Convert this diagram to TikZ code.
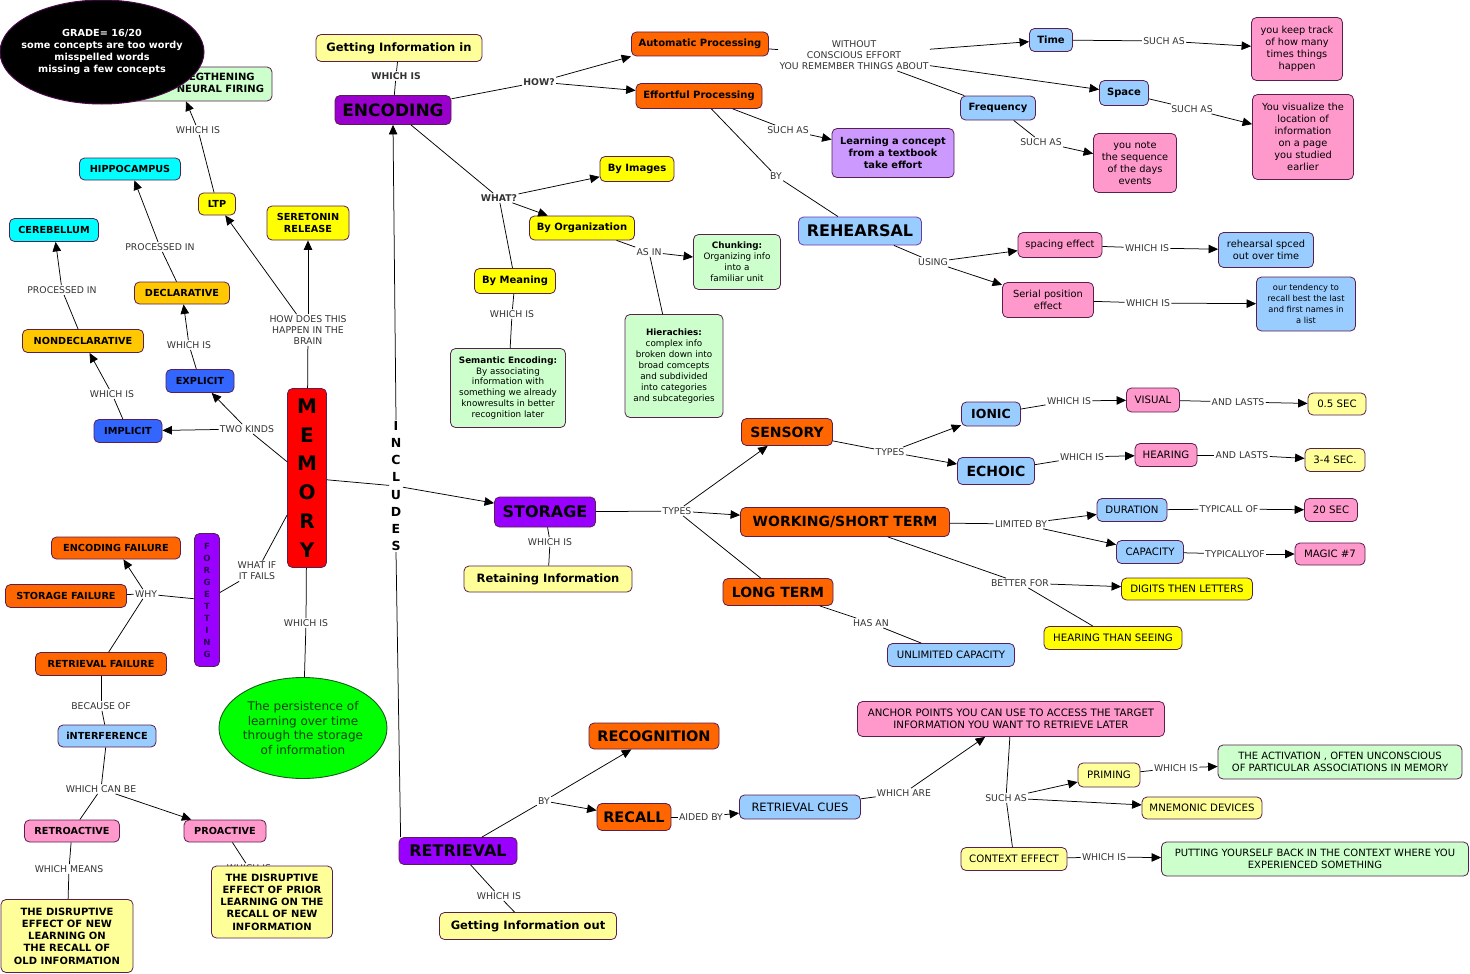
\documentclass[tikz,border=0pt]{standalone}
\usepackage{fontspec}
\setmainfont{DejaVu Sans}
\usetikzlibrary{arrows.meta,shapes.geometric}
\newcommand{\bsz}[2]{\fontsize{#1}{#2}\selectfont\bfseries}
\newcommand{\rsz}[2]{\fontsize{#1}{#2}\selectfont}
\definecolor{orng}{HTML}{FF6600}
\definecolor{purp}{HTML}{9900CC}
\definecolor{viol}{HTML}{9900FF}
\definecolor{cyanc}{HTML}{00FFFF}
\definecolor{yel}{HTML}{FFFF00}
\definecolor{lyel}{HTML}{FFFF99}
\definecolor{goldc}{HTML}{FFC800}
\definecolor{blu}{HTML}{3366FF}
\definecolor{lblu}{HTML}{99CCFF}
\definecolor{pinkc}{HTML}{FF99CC}
\definecolor{lgrn}{HTML}{CCFFCC}
\definecolor{lav}{HTML}{CC99FF}
\definecolor{redc}{HTML}{FF0000}
\definecolor{limec}{HTML}{00FF00}
\definecolor{bordc}{HTML}{5A1E50}
\definecolor{gradeb}{HTML}{4A0A4A}
\definecolor{lblc}{HTML}{333333}
\definecolor{forgc}{HTML}{2B0055}
\definecolor{perstx}{HTML}{0F3F0F}
\definecolor{persb}{HTML}{1A5A1A}
\definecolor{rehb}{HTML}{6A3AB0}
\tikzset{
  cn/.style={rectangle, rounded corners=5pt, draw=bordc, line width=0.8pt, align=center, inner sep=1pt, text=black},
  wh/.style 2 args={minimum width=#1pt, minimum height=#2pt},
  lb/.style={fill=white, inner sep=1.2pt, align=center, text=lblc, font=\rsz{9.3}{11}},
  lbb/.style={lb, font=\bsz{9.3}{11}},
  ln/.style={draw=black, line width=0.75pt},
  arr/.style={ln, -{Triangle[length=9.5pt,width=8.5pt]}},
  nor/.style={cn, fill=orng},
  npu/.style={cn, fill=purp},
  nvi/.style={cn, fill=viol},
  ncy/.style={cn, fill=cyanc},
  nye/.style={cn, fill=yel},
  nly/.style={cn, fill=lyel},
  ngo/.style={cn, fill=goldc},
  nbl/.style={cn, fill=blu},
  nlb/.style={cn, fill=lblu},
  npk/.style={cn, fill=pinkc},
  nlg/.style={cn, fill=lgrn},
  nlv/.style={cn, fill=lav},
  fb/.style={font=\bsz{9.7}{12}},
  fr/.style={font=\rsz{10.2}{12}},
}
\begin{document}
\begin{tikzpicture}[x=1pt,y=-1pt]
\useasboundingbox (0,0) rectangle (1470,974);
\fill[white] (0,0) rectangle (1470,974);

% ---------- link labels ----------
\node[lbb] (lwe) at (396,76) {WHICH IS};
\node[lbb] (lhow) at (539,82) {HOW?};
\node[lbb] (lwhat) at (499,198) {WHAT?};
\node[lb] (lwo) at (854,55) {WITHOUT\\CONSCIOUS EFFORT\\YOU REMEMBER THINGS ABOUT};
\node[lb] (lst) at (1164,41) {SUCH AS};
\node[lb] (lss) at (1192,109) {SUCH AS};
\node[lb] (lsf) at (1041,142) {SUCH AS};
\node[lb] (lse) at (788,130) {SUCH AS};
\node[lb] (lbe) at (776,176) {BY};
\node[lb] (lus) at (933,262) {USING};
\node[lb] (lwsp) at (1147,248) {WHICH IS};
\node[lb] (lwse) at (1148,303) {WHICH IS};
\node[lb] (lasin) at (649,252) {AS IN};
\node[lb] (lwm) at (512,314) {WHICH IS};
\node[lb] (lhb) at (308,330) {HOW DOES THIS\\HAPPEN IN THE\\BRAIN};
\node[lb] (lltp) at (198,130) {WHICH IS};
\node[lb] (lp1) at (160,247) {PROCESSED IN};
\node[lb] (lp2) at (62,290) {PROCESSED IN};
\node[lb] (ltk) at (247,429) {TWO KINDS};
\node[lb] (lwi) at (112,394) {WHICH IS};
\node[lb] (lwx) at (189,345) {WHICH IS};
\node[lb] (lwif) at (257,571) {WHAT IF\\IT FAILS};
\node[lb] (lwhy) at (146,594) {WHY};
\node[lb] (lwmem) at (306,623) {WHICH IS};
\node[lb] (lbec) at (101,706) {BECAUSE OF};
\node[lb] (lcan) at (101,789) {WHICH CAN BE};
\node[lb] (lmeans) at (69,869) {WHICH MEANS};
\node[lb] (lwpro) at (249,868) {WHICH IS};
\node[lbb, font=\bsz{12.5}{17.1}, text=black, inner sep=1.5pt] (lincl) at (396,486) {I\\N\\C\\L\\U\\D\\E\\S};
\node[lb] (lwst) at (550,542) {WHICH IS};
\node[lb] (ltypes) at (677,511) {TYPES};
\node[lb] (ltypes2) at (890,452) {TYPES};
\node[lb] (lwio) at (1069,401) {WHICH IS};
\node[lb] (lal1) at (1238,402) {AND LASTS};
\node[lb] (lwec) at (1082,457) {WHICH IS};
\node[lb] (lal2) at (1242,455) {AND LASTS};
\node[lb] (llim) at (1021,524) {LIMITED BY};
\node[lb] (ltyp1) at (1229,509) {TYPICALL OF};
\node[lb] (ltyp2) at (1235,554) {TYPICALLYOF};
\node[lb] (lbet) at (1020,583) {BETTER FOR};
\node[lb] (lhas) at (871,623) {HAS AN};
\node[lb] (lbyr) at (544,801) {BY};
\node[lb] (lwr) at (499,896) {WHICH IS};
\node[lb] (laid) at (701,817) {AIDED BY};
\node[lb] (lware) at (904,793) {WHICH ARE};
\node[lb] (lsa) at (1006,798) {SUCH AS};
\node[lb] (lwpr) at (1176,768) {WHICH IS};
\node[lb] (lwc) at (1104,857) {WHICH IS};

% ---------- left: memory ----------
\node[nlg, wh={152}{34}] (streng) at (196,84) {};
\node[align=center, font=\bsz{10}{12}, inner sep=0pt] (strengtxt) at (211,83) {STREGTHENING\\OF NEURAL FIRING};
\node[ellipse, fill=black, draw=gradeb, line width=1pt, minimum width=204pt, minimum height=104pt, inner sep=0pt] (grade) at (102,52) {};
\node[text=white, align=center, font=\bsz{9.7}{12.2}, inner sep=0pt] (gradetxt) at (grade.center) {GRADE= 16/20\\some concepts are too wordy\\misspelled words\\missing a few concepts};
\node[ncy, wh={101}{22}, fb] (hippo) at (130,169) {HIPPOCAMPUS};
\node[ncy, wh={89}{23}, fb] (cereb) at (54,230) {CEREBELLUM};
\node[nye, wh={37}{22}, fb] (ltp) at (217,204) {LTP};
\node[nye, wh={82}{34}, fb] (sero) at (308,223) {SERETONIN\\RELEASE};
\node[ngo, wh={95}{22}, fb] (decl) at (182,293) {DECLARATIVE};
\node[ngo, wh={121}{23}, fb] (nondecl) at (83,341) {NONDECLARATIVE};
\node[nbl, wh={68}{23}, fb] (explicit) at (200,381) {EXPLICIT};
\node[nbl, wh={68}{23}, fb] (implicit) at (128,431) {IMPLICIT};
\node[cn, fill=redc, wh={39}{179}, font=\bsz{20}{28.7}] (memory) at (307,478) {M\\E\\M\\O\\R\\Y};
\node[nvi, wh={25}{133}, font=\bsz{8.5}{12}, text=forgc] (forget) at (207,600) {F\\O\\R\\G\\E\\T\\T\\I\\N\\G};
\node[nor, wh={129}{22}, fb] (encfail) at (116,548) {ENCODING FAILURE};
\node[nor, wh={121}{23}, fb] (storfail) at (66,596) {STORAGE FAILURE};
\node[nor, wh={131}{23}, fb] (retrfail) at (101,664) {RETRIEVAL FAILURE};
\node[nlb, wh={98}{22}, fb] (interf) at (107,736) {iNTERFERENCE};
\node[npk, wh={95}{22}, fb] (retro) at (72,831) {RETROACTIVE};
\node[npk, wh={82}{22}, fb] (pro) at (225,831) {PROACTIVE};
\node[nly, wh={132}{73}, font=\bsz{10}{12.2}] (retrodef) at (67,936) {THE DISRUPTIVE\\EFFECT OF NEW\\LEARNING ON\\THE RECALL OF\\OLD INFORMATION};
\node[nly, wh={121}{72}, font=\bsz{10}{12.2}] (prodef) at (272,902) {THE DISRUPTIVE\\EFFECT OF PRIOR\\LEARNING ON THE\\RECALL OF NEW\\INFORMATION};
\node[ellipse, fill=limec, draw=persb, line width=0.9pt, minimum width=168pt, minimum height=101pt, inner sep=0pt] (persist) at (303,728) {};
\node[text=perstx, align=center, font=\rsz{12}{14.7}, inner sep=0pt] (persisttxt) at (persist.center) {The persistence of\\learning over time\\through the storage\\of information};

% ---------- centre column ----------
\node[nly, wh={166}{27}, font=\bsz{11.5}{13}] (getin) at (399,48) {Getting Information in};
\node[npu, wh={116}{29}, font=\bsz{17}{19}] (enc) at (393,110) {ENCODING};
\node[nvi, wh={101}{30}, font=\bsz{16}{18}] (storage) at (545,512) {STORAGE};
\node[nly, wh={168}{26}, font=\bsz{11.5}{13}] (retaining) at (548,579) {Retaining Information};
\node[nvi, wh={118}{27}, font=\bsz{16}{18}] (retrieval) at (458,851) {RETRIEVAL};
\node[nly, wh={177}{27}, font=\bsz{11.5}{13}] (getout) at (528,926) {Getting Information out};
\node[nor, wh={130}{26}, font=\bsz{14.5}{16}] (recog) at (654,736) {RECOGNITION};
\node[nor, wh={74}{27}, font=\bsz{14.5}{16}] (recall) at (634,817) {RECALL};
\node[nlb, wh={121}{24}, font=\rsz{11.5}{13}] (cues) at (800,807) {RETRIEVAL CUES};

% ---------- encoding subtree ----------
\node[nor, wh={137}{24}, font=\bsz{10}{12}] (auto) at (700,44) {Automatic Processing};
\node[nor, wh={126}{25}, font=\bsz{10}{12}] (effort) at (699,96) {Effortful Processing};
\node[nlb, wh={43}{23}, font=\bsz{10}{12}] (time) at (1051,40) {Time};
\node[nlb, wh={49}{25}, font=\bsz{10}{12}] (space) at (1124,93) {Space};
\node[nlb, wh={75}{24}, font=\bsz{10}{12}] (freq) at (998,108) {Frequency};
\node[npk, wh={91}{63}, font=\rsz{9.8}{12.1}] (keep) at (1297,49) {you keep track\\of how many\\times things\\happen};
\node[npk, wh={101}{85}, font=\rsz{9.8}{12.1}] (visualize) at (1303,137) {You visualize the\\location of\\information\\on a page\\you studied\\earlier};
\node[npk, wh={83}{59}, font=\rsz{9.8}{12.1}] (note) at (1135,163) {you note\\the sequence\\of the days\\events};
\node[nlv, wh={122}{49}, font=\bsz{9.8}{12}] (learnc) at (893,153) {Learning a concept\\from a textbook\\take effort};
\node[nlb, draw=rehb, wh={123}{28}, font=\bsz{16}{18}] (rehearsal) at (860,231) {REHEARSAL};
\node[npk, wh={84}{25}, font=\rsz{9.8}{12}] (spacing) at (1060,245) {spacing effect};
\node[nlb, wh={95}{35}, font=\rsz{9.8}{12}] (spced) at (1266,250) {rehearsal spced\\out over time};
\node[npk, wh={91}{35}, font=\rsz{9.8}{12}] (serial) at (1048,300) {Serial position\\effect};
\node[nlb, wh={99}{54}, font=\rsz{8.3}{11}] (tendency) at (1306,304) {our tendency to\\recall best the last\\and first names in\\a list};
\node[nye, wh={74}{25}, font=\bsz{10}{12}] (byimg) at (637,169) {By Images};
\node[nye, wh={105}{24}, font=\bsz{10}{12}] (byorg) at (582,228) {By Organization};
\node[nye, wh={81}{25}, font=\bsz{10}{12}] (bymean) at (515,281) {By Meaning};
\node[nlg, wh={87}{55}, font=\rsz{8.8}{11}] (chunk) at (737,262) {\textbf{Chunking:}\\Organizing info\\into a\\familiar unit};
\node[nlg, wh={115}{79}, font=\rsz{8.8}{10.9}] (semantic) at (508,388) {\textbf{Semantic Encoding:}\\By associating\\information with\\something we already\\knowresults in better\\recognition later};
\node[nlg, wh={98}{103}, font=\rsz{8.8}{10.9}] (hier) at (674,366) {\textbf{Hierachies:}\\complex info\\broken down into\\broad comcepts\\and subdivided\\into categories\\and subcategories};

% ---------- storage subtree ----------
\node[nor, wh={91}{27}, font=\bsz{14}{16}] (sensory) at (787,432) {SENSORY};
\node[nlb, wh={59}{24}, font=\bsz{12.5}{14}] (ionic) at (991,414) {IONIC};
\node[nlb, wh={77}{27}, font=\bsz{14}{16}] (echoic) at (996,471) {ECHOIC};
\node[npk, wh={53}{24}, fr] (visual) at (1153,400) {VISUAL};
\node[nly, wh={58}{22}, fr] (half) at (1337,404) {0.5 SEC};
\node[npk, wh={62}{23}, fr] (hearing) at (1166,455) {HEARING};
\node[nly, wh={60}{23}, fr] (threefour) at (1335,460) {3-4 SEC.};
\node[nor, wh={209}{29}, font=\bsz{14}{16}] (working) at (845,522) {WORKING/SHORT TERM};
\node[nlb, wh={70}{23}, fr] (duration) at (1132,510) {DURATION};
\node[npk, wh={53}{23}, fr] (twenty) at (1331,510) {20 SEC};
\node[nlb, wh={67}{23}, fr] (capacity) at (1150,552) {CAPACITY};
\node[npk, wh={70}{22}, fr] (magic) at (1330,554) {MAGIC \#7};
\node[nye, wh={131}{22}, fr] (digits) at (1187,589) {DIGITS THEN LETTERS};
\node[nye, wh={138}{23}, fr] (hearseeing) at (1113,638) {HEARING THAN SEEING};
\node[nor, wh={110}{27}, font=\bsz{14}{16}] (longterm) at (778,592) {LONG TERM};
\node[nlb, wh={127}{23}, fr] (unlimited) at (951,655) {UNLIMITED CAPACITY};

% ---------- retrieval subtree ----------
\node[npk, wh={307}{35}, font=\rsz{10.2}{11.7}] (anchor) at (1011,719) {ANCHOR POINTS YOU CAN USE TO ACCESS THE TARGET\\INFORMATION YOU WANT TO RETRIEVE LATER};
\node[nly, wh={62}{24}, fr] (priming) at (1109,775) {PRIMING};
\node[nlg, wh={244}{34}, font=\rsz{10}{11.7}] (activation) at (1340,762) {THE ACTIVATION , OFTEN UNCONSCIOUS\\OF PARTICULAR ASSOCIATIONS IN MEMORY};
\node[nly, wh={120}{22}, fr] (mnemonic) at (1202,808) {MNEMONIC DEVICES};
\node[nly, wh={106}{23}, fr] (context) at (1014,859) {CONTEXT EFFECT};
\node[nlg, wh={307}{34}, font=\rsz{10}{11.7}] (putting) at (1315,859) {PUTTING YOURSELF BACK IN THE CONTEXT WHERE YOU\\EXPERIENCED SOMETHING};

% ---------- connectors: encoding ----------
\draw[ln] (getin) -- (lwe);
\draw[ln] (lwe) -- (enc);
\draw[ln] (enc) -- (lhow);
\draw[arr] (lhow) -- (auto.south west);
\draw[arr] (lhow) -- (effort);
\draw[ln] (auto) -- (lwo);
\draw[arr] (lwo) -- (time);
\draw[arr] (lwo) -- (space);
\draw[ln] (lwo) -- (freq);
\draw[ln] (time) -- (lst);
\draw[arr] (lst) -- (keep);
\draw[ln] (space) -- (lss);
\draw[arr] (lss) -- (visualize);
\draw[ln] (freq) -- (lsf);
\draw[arr] (lsf) -- (note);
\draw[ln] (effort) -- (lse);
\draw[arr] (lse) -- (learnc);
\draw[ln] (effort) -- (lbe);
\draw[ln] (lbe) -- (rehearsal);
\draw[ln] (rehearsal) -- (lus);
\draw[arr] (lus) -- (spacing);
\draw[arr] (lus) -- (serial);
\draw[ln] (spacing) -- (lwsp);
\draw[arr] (lwsp) -- (spced);
\draw[ln] (serial) -- (lwse);
\draw[arr] (lwse) -- (tendency);
\draw[ln] (enc) -- (lwhat);
\draw[arr] (lwhat) -- (byimg);
\draw[arr] (lwhat) -- (byorg);
\draw[ln] (lwhat) -- (bymean);
\draw[ln] (byorg) -- (lasin);
\draw[arr] (lasin) -- (chunk);
\draw[ln] (lasin) -- (hier);
\draw[ln] (bymean) -- (lwm);
\draw[ln] (lwm) -- (semantic);

% ---------- connectors: memory ----------
\draw[ln] (memory) -- (lhb);
\draw[arr] (lhb) -- (ltp);
\draw[arr] (lhb) -- (sero);
\draw[ln] (ltp) -- (lltp);
\draw[arr] (lltp) -- ([xshift=-10pt]streng.south);
\draw[ln] (decl) -- (lp1);
\draw[arr] (lp1) -- (hippo);
\draw[ln] (nondecl) -- (lp2);
\draw[arr] (lp2) -- (cereb);
\draw[ln] (memory) -- (ltk);
\draw[arr] (ltk) -- (implicit);
\draw[arr] (ltk) -- (explicit);
\draw[ln] (implicit) -- (lwi);
\draw[arr] (lwi) -- (nondecl);
\draw[ln] (explicit) -- (lwx);
\draw[arr] (lwx) -- (decl);
\draw[ln] (memory) -- (lwif);
\draw[ln] (lwif) -- (forget);
\draw[ln] (forget) -- (lwhy);
\draw[arr] (lwhy) -- (encfail);
\draw[ln] (lwhy) -- (storfail);
\draw[ln] (lwhy) -- (retrfail);
\draw[ln] (memory) -- (lwmem);
\draw[ln] (lwmem) -- (persist);
\draw[ln] (retrfail) -- (lbec);
\draw[ln] (lbec) -- (interf);
\draw[ln] (interf) -- (lcan);
\draw[ln] (lcan) -- (retro);
\draw[arr] (lcan) -- (pro);
\draw[ln] (retro) -- (lmeans);
\draw[ln] (lmeans) -- (retrodef);
\draw[ln] (pro) -- (lwpro);
\draw[ln] (memory) -- (lincl);
\draw[arr] (lincl.north) -- (enc.south);
\draw[arr] (lincl) -- (storage);
\draw[ln] (lincl.south) -- ([xshift=2pt]retrieval.north west);

% ---------- connectors: storage ----------
\draw[ln] (storage) -- (lwst);
\draw[ln] (lwst) -- (retaining);
\draw[ln] (storage) -- (ltypes);
\draw[arr] (ltypes) -- (sensory);
\draw[arr] (ltypes) -- (working);
\draw[ln] (ltypes) -- (longterm);
\draw[ln] (sensory) -- (ltypes2);
\draw[arr] (ltypes2) -- (ionic);
\draw[arr] (ltypes2) -- (echoic);
\draw[ln] (ionic) -- (lwio);
\draw[arr] (lwio) -- (visual);
\draw[ln] (visual) -- (lal1);
\draw[arr] (lal1) -- (half);
\draw[ln] (echoic) -- (lwec);
\draw[arr] (lwec) -- (hearing);
\draw[ln] (hearing) -- (lal2);
\draw[arr] (lal2) -- (threefour);
\draw[ln] (working) -- (llim);
\draw[arr] (llim) -- (duration);
\draw[arr] (llim) -- (capacity);
\draw[ln] (duration) -- (ltyp1);
\draw[arr] (ltyp1) -- (twenty);
\draw[ln] (capacity) -- (ltyp2);
\draw[arr] (ltyp2) -- (magic);
\draw[ln] (working) -- (lbet);
\draw[arr] (lbet) -- (digits);
\draw[ln] (lbet) -- (hearseeing);
\draw[ln] (longterm) -- (lhas);
\draw[ln] (lhas) -- (unlimited);

% ---------- connectors: retrieval ----------
\draw[ln] (retrieval) -- (lbyr);
\draw[arr] (lbyr) -- (recog);
\draw[arr] (lbyr) -- (recall);
\draw[ln] (retrieval) -- (lwr);
\draw[ln] (lwr) -- (getout);
\draw[ln] (recall) -- (laid);
\draw[arr] (laid) -- (cues);
\draw[ln] (cues) -- (lware);
\draw[arr] (lware) -- (anchor);
\draw[ln] (anchor) -- (lsa);
\draw[arr] (lsa) -- (priming);
\draw[arr] (lsa) -- (mnemonic);
\draw[ln] (lsa) -- (context);
\draw[ln] (priming) -- (lwpr);
\draw[arr] (lwpr) -- (activation);
\draw[ln] (context) -- (lwc);
\draw[arr] (lwc) -- (putting);
\end{tikzpicture}
\end{document}
